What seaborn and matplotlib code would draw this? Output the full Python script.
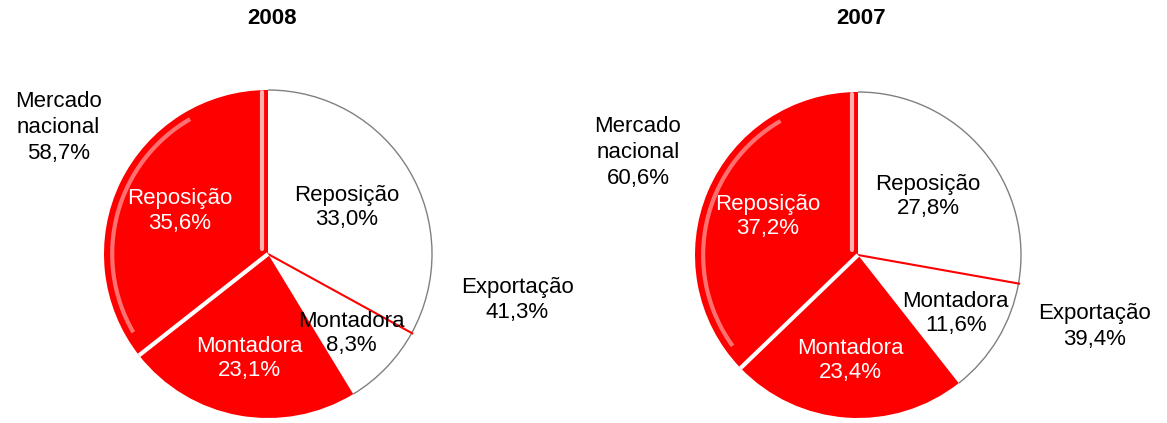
import numpy as np
import matplotlib
matplotlib.use("Agg")
import matplotlib.pyplot as plt
from matplotlib.patches import Arc
import seaborn as sns

# dados (% das vendas)
anos = ["2008", "2007"]
segmentos = ["Reposição", "Montadora", "Montadora", "Reposição"]
mercados = ["Exportação", "Exportação", "Mercado nacional", "Mercado nacional"]
valores_2008 = [33.0, 8.3, 23.1, 35.6]
valores_2007 = [27.8, 11.6, 23.4, 37.2]

cores = ["white", "white", "#ff0000", "#ff0000"]
cor_texto = ["black", "black", "white", "white"]

sns.set_style("white")
plt.rcParams["font.family"] = ["Liberation Sans", "DejaVu Sans"]
plt.rcParams["text.color"] = "black"

W, H = 1167, 423
fig = plt.figure(figsize=(W / 100, H / 100), dpi=100)

def fmt(v):
    return f"{v:.1f}".replace(".", ",") + "%"

# centro (px), raio (px), posicao dos rotulos externos (em raios)
layouts = [
    dict(cx=268, cy=254, r=164, nac=(-1.28, 0.77), exp=(1.52, -0.28)),
    dict(cx=858, cy=255, r=163, nac=(-1.35, 0.63), exp=(1.45, -0.44)),
]
dist_rotulo = [0.56, 0.70, 0.65, 0.60]

for ano, valores, lay in zip(anos, [valores_2008, valores_2007], layouts):
    r = lay["r"]
    ax = fig.add_axes([(lay["cx"] - r) / W, (H - lay["cy"] - r) / H, 2 * r / W, 2 * r / H])
    wedges, _ = ax.pie(valores, colors=cores, startangle=90, counterclock=False,
                       radius=1, wedgeprops=dict(linewidth=0))
    ax.set_xlim(-1, 1)
    ax.set_ylim(-1, 1)
    ax.axis("off")

    for i, w in enumerate(wedges):
        # contorno cinza so no arco externo das fatias brancas
        if cores[i] == "white":
            ax.add_patch(Arc((0, 0), 2, 2, theta1=w.theta1, theta2=w.theta2,
                             color="#808080", lw=1, clip_on=False))
        elif i == 3:
            # brilho do efeito chanfrado no lado esquerdo
            ax.add_patch(Arc((0, 0), 1.9, 1.9, theta1=w.theta1 + 30, theta2=w.theta2 - 8,
                             color="#ffd0d0", lw=3, alpha=0.55, clip_on=False))
        ang = np.deg2rad((w.theta1 + w.theta2) / 2)
        d = dist_rotulo[i]
        ax.text(d * np.cos(ang), d * np.sin(ang), f"{segmentos[i]}\n{fmt(valores[i])}",
                ha="center", va="center", fontsize=16, color=cor_texto[i], linespacing=1.2)

    # linha vermelha entre as fatias brancas (exportacao)
    a = np.deg2rad(wedges[0].theta1)
    ax.plot([0, 1.01 * np.cos(a)], [0, 1.01 * np.sin(a)], color="#ff0000", lw=1.5,
            clip_on=False, solid_capstyle="butt")
    # linha branca entre as fatias vermelhas (mercado nacional)
    a = np.deg2rad(wedges[2].theta1)
    ax.plot([0, np.cos(a)], [0, np.sin(a)], color="white", lw=3, clip_on=False,
            solid_capstyle="butt")
    # destaque claro na borda superior da fatia vermelha
    ax.plot([-0.035, -0.035], [0.03, 0.99], color="#ffb0b0", lw=3, clip_on=False)

    nac = sum(v for v, m in zip(valores, mercados) if m == "Mercado nacional")
    exp = sum(v for v, m in zip(valores, mercados) if m == "Exportação")
    ax.text(*lay["nac"], f"Mercado\nnacional\n{fmt(nac)}", ha="center", va="center",
            fontsize=16, linespacing=1.3, clip_on=False)
    ax.text(*lay["exp"], f"Exportação\n{fmt(exp)}", ha="center", va="center",
            fontsize=16, linespacing=1.3, clip_on=False)

    fig.text(lay["cx"] / W + 0.003, 1 - 18 / H, ano, ha="center", va="center",
             fontsize=16, fontweight="bold")

fig.savefig("out.png", dpi=100)
